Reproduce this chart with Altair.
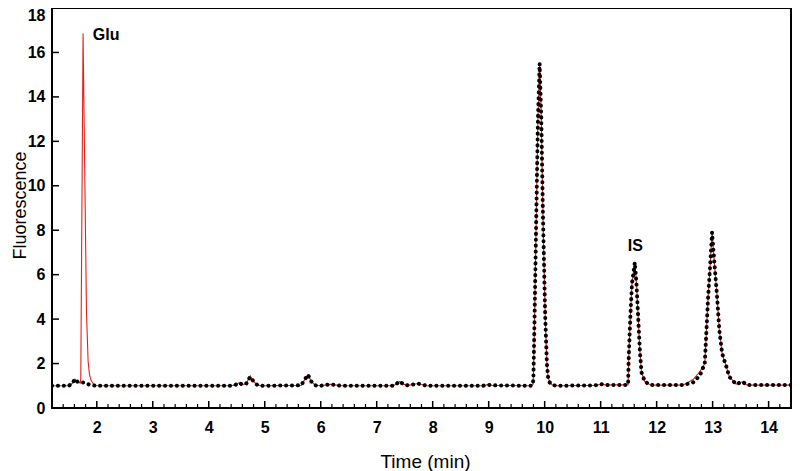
import altair as alt
import pandas as pd

# Dotted (black) trace
time_black = [1.2, 1.5, 1.56, 1.61, 1.66, 1.72, 1.78, 1.84, 1.9, 2.0,
              4.4, 4.48, 4.54, 4.61, 4.67, 4.74, 4.80, 4.87, 4.95,
              5.65, 5.72, 5.77, 5.83, 5.9, 6.0, 6.1, 6.16, 6.25, 6.35,
              7.3, 7.36, 7.41, 7.47, 7.55, 7.65, 7.73, 7.8, 7.9,
              8.9, 8.98, 9.06, 9.75, 9.79, 9.80, 9.82, 9.85, 9.88, 9.91,
              9.94, 9.97, 10.01, 10.04, 10.06, 10.09, 10.13, 10.2,
              10.9, 11.0, 11.1, 11.46, 11.49, 11.50, 11.53, 11.56, 11.61,
              11.64, 11.67, 11.70, 11.73, 11.79, 11.9,
              12.47, 12.65, 12.77, 12.86, 12.89, 12.92, 12.96, 12.99,
              13.03, 13.08, 13.12, 13.17, 13.24, 13.30, 13.42, 13.53, 13.62, 14.52]
fluor_black = [1.0, 1.0, 1.1, 1.3, 1.17, 1.15, 1.15, 1.08, 1.02, 1.0,
               1.0, 1.05, 1.13, 1.05, 1.1, 1.4, 1.2, 1.03, 1.0,
               1.02, 1.3, 1.5, 1.2, 1.02, 1.0, 1.04, 1.07, 1.04, 1.0,
               1.0, 1.1, 1.2, 1.08, 1.02, 1.06, 1.1, 1.06, 1.0,
               1.0, 1.05, 1.02, 1.0, 1.05, 1.5, 4.1, 8.6, 13.0, 15.5,
               13.0, 8.6, 4.1, 2.0, 1.4, 1.15, 1.05, 1.0,
               1.02, 1.07, 1.04, 1.04, 1.05, 2.15, 4.1, 5.6, 6.55,
               5.6, 4.1, 2.6, 1.6, 1.18, 1.03,
               1.03, 1.15, 1.45, 2.0, 3.5, 5.0, 6.6, 7.9,
               6.6, 5.0, 3.5, 2.45, 1.9, 1.4, 1.07, 1.18, 1.03, 1.03]

# Solid (red) trace
time_red = [1.2, 1.5, 1.56, 1.61, 1.66, 1.705, 1.714, 1.755, 1.785, 1.816,
            1.845, 1.87, 1.905, 1.95, 2.0,
            4.4, 4.48, 4.54, 4.61, 4.67, 4.74, 4.80, 4.87, 4.95,
            5.65, 5.72, 5.77, 5.83, 5.9, 6.0, 6.1, 6.16, 6.25, 6.35,
            7.3, 7.36, 7.41, 7.47, 7.55, 7.65, 7.73, 7.8, 7.9,
            8.9, 8.98, 9.06, 9.75, 9.79, 9.80, 9.82, 9.85, 9.88, 9.91,
            9.94, 9.97, 10.01, 10.04, 10.06, 10.09, 10.13, 10.2,
            10.9, 11.0, 11.1, 11.46, 11.49, 11.50, 11.53, 11.56, 11.61,
            11.64, 11.67, 11.70, 11.73, 11.79, 11.9,
            12.47, 12.65, 12.77, 12.86, 12.89, 12.92, 12.96, 12.99,
            13.03, 13.08, 13.12, 13.17, 13.24, 13.30, 13.42, 13.53, 13.62, 14.52]
fluor_red = [1.0, 1.0, 1.1, 1.3, 1.17, 1.12, 1.3, 16.85, 10.6, 4.3,
             2.1, 1.5, 1.2, 1.05, 1.0,
             1.0, 1.05, 1.13, 1.05, 1.1, 1.45, 1.2, 1.03, 1.0,
             1.02, 1.3, 1.5, 1.2, 1.02, 1.0, 1.04, 1.07, 1.04, 1.0,
             1.0, 1.1, 1.2, 1.08, 1.02, 1.06, 1.1, 1.06, 1.0,
             1.0, 1.05, 1.02, 1.0, 1.05, 1.5, 4.1, 8.6, 13.0, 15.5,
             13.0, 8.6, 4.1, 2.0, 1.4, 1.15, 1.05, 1.0,
             1.02, 1.07, 1.04, 1.04, 1.05, 2.15, 4.1, 5.6, 6.55,
             5.6, 4.1, 2.6, 1.6, 1.18, 1.03,
             1.03, 1.28, 1.63, 2.0, 3.5, 5.0, 6.6, 7.9,
             6.6, 5.0, 3.5, 2.45, 1.9, 1.4, 1.07, 1.18, 1.03, 1.03]

# Peak annotations
label_text = ["Glu", "IS"]
label_time = [1.93, 11.62]
label_value = [16.8, 7.3]

# Axis tick values
x_major = [2, 3, 4, 5, 6, 7, 8, 9, 10, 11, 12, 13, 14]
x_minor = [1.2, 1.4, 1.6, 1.8, 2.2, 2.4, 2.6, 2.8, 3.2, 3.4, 3.6, 3.8,
           4.2, 4.4, 4.6, 4.8, 5.2, 5.4, 5.6, 5.8, 6.2, 6.4, 6.6, 6.8,
           7.2, 7.4, 7.6, 7.8, 8.2, 8.4, 8.6, 8.8, 9.2, 9.4, 9.6, 9.8,
           10.2, 10.4, 10.6, 10.8, 11.2, 11.4, 11.6, 11.8, 12.2, 12.4, 12.6, 12.8,
           13.2, 13.4, 13.6, 13.8, 14.2]
y_major = [0, 2, 4, 6, 8, 10, 12, 14, 16, 18]
y_inner = [2, 4, 6, 8, 10, 12, 14, 16]

df_black = pd.DataFrame({"time": time_black, "value": fluor_black})
df_red = pd.DataFrame({"time": time_red, "value": fluor_red})
df_lab = pd.DataFrame({"time": label_time, "value": label_value, "label": label_text})
df_xmaj = pd.DataFrame({"time": x_major})
df_xmin = pd.DataFrame({"time": x_minor})
df_y = pd.DataFrame({"value": y_inner})

FONT = "Liberation Sans"
W, H = 739, 400

xscale = alt.Scale(domain=[1.2, 14.4], nice=False, zero=False)
yscale = alt.Scale(domain=[0, 18], nice=False)

xaxis = alt.Axis(values=x_major, title="Time (min)", ticks=False, tickSize=0, domain=False,
                 grid=False, labelFontWeight="bold", labelFontSize=16, labelPadding=24,
                 labelBaseline="alphabetic", labelFlush=False, titleFontSize=19,
                 titleFontWeight="normal", titleBaseline="alphabetic", titleY=59,
                 titleX=373,
                 labelColor="black", titleColor="black", labelFont=FONT, titleFont=FONT)
yaxis = alt.Axis(values=y_major, title="Fluorescence", ticks=False, tickSize=0, domain=False,
                 grid=False, labelFontWeight="bold", labelFontSize=16, labelPadding=7,
                 labelFlush=False,
                 labelOffset={"condition": {"test": "datum.value == 18", "value": 7}, "value": 0},
                 titleFontSize=18, titleFontWeight="normal", titleAngle=-90,
                 titleBaseline="alphabetic", titleAlign="center", titleX=-27, titleY=197,
                 labelColor="black", titleColor="black", labelFont=FONT, titleFont=FONT)

xenc = alt.X("time:Q", scale=xscale, axis=xaxis)
yenc = alt.Y("value:Q", scale=yscale, axis=yaxis)

red = alt.Chart(df_red).mark_line(color="#e3211c", strokeWidth=1.1, clip=True).encode(x=xenc, y=yenc)
black = alt.Chart(df_black).mark_line(
    color="black", strokeWidth=4, strokeDash=[0.1, 5.8], strokeCap="round", clip=True
).encode(x=xenc, y=yenc)

glu = alt.Chart(df_lab.iloc[[0]]).mark_text(
    align="left", baseline="middle", font=FONT, fontWeight="bold", fontSize=16, color="black"
).encode(x=xenc, y=yenc, text="label:N")
is_lab = alt.Chart(df_lab.iloc[[1]]).mark_text(
    align="center", baseline="middle", font=FONT, fontWeight="bold", fontSize=16, color="black"
).encode(x=xenc, y=yenc, text="label:N")

xmaj = alt.Chart(df_xmaj).mark_rule(color="black", strokeWidth=1.5).encode(
    x=xenc, y=alt.value(H), y2=alt.value(H - 7))
xmin = alt.Chart(df_xmin).mark_rule(color="black", strokeWidth=1.2).encode(
    x=xenc, y=alt.value(H), y2=alt.value(H - 4))
yt = alt.Chart(df_y).mark_rule(color="black", strokeWidth=1.5).encode(
    y=yenc, x=alt.value(0), x2=alt.value(7))

chart = alt.layer(red, black, glu, is_lab, xmaj, xmin, yt).properties(
    width=W, height=H,
    autosize=alt.AutoSizeParams(type="none"),
    padding={"left": 44, "top": 0, "right": 1, "bottom": 63},
    background="white",
).configure_view(stroke="black", strokeWidth=2)

chart.save("out.html", embed_options={"renderer": "svg", "actions": False})
